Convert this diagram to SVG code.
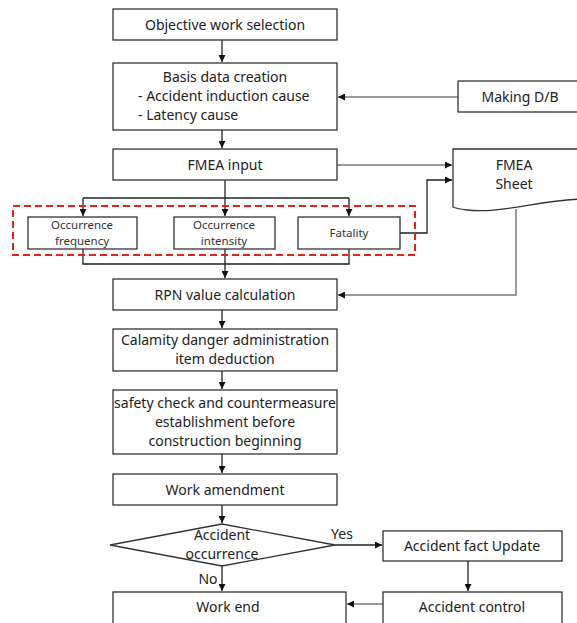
<svg xmlns="http://www.w3.org/2000/svg" width="577" height="623" viewBox="0 0 577 623">
<defs>
<marker id="ah" viewBox="0 0 10 10" refX="10" refY="5" markerWidth="7" markerHeight="7" markerUnits="userSpaceOnUse" orient="auto"><path d="M0,0 L10,5 L0,10 z" fill="#111"/></marker>
</defs>
<style>
.box{fill:#fff;stroke:#333;stroke-width:1.3}
.t{font-family:"Noto Sans","Open Sans",sans-serif;font-size:14px;fill:#222;text-anchor:middle}
.l{text-anchor:start}
.s{font-family:"Noto Sans","Open Sans",sans-serif;font-size:11.5px;fill:#333;text-anchor:middle}
.c{fill:none;stroke:#222;stroke-width:1.3}
.g{fill:none;stroke:#7a7a7a;stroke-width:1.5}
</style>
<rect width="577" height="623" fill="#fff"/>
<g id="connectors">
<path class="c" d="M222,40 V62" marker-end="url(#ah)"/>
<path class="c" d="M222,130 V148" marker-end="url(#ah)"/>
<path class="g" d="M458,97 H338" marker-end="url(#ah)"/>
<path class="g" d="M337,165 H452" marker-end="url(#ah)"/>
<path class="c" d="M400,233 H427 V180 H452" marker-end="url(#ah)"/>
<path class="g" d="M516,209 V295 H338" marker-end="url(#ah)"/>
<path class="c" d="M225,180 V198"/>
<path class="c" d="M83,198 H349"/>
<path class="c" d="M83,198 V216" marker-end="url(#ah)"/>
<path class="c" d="M225,198 V216" marker-end="url(#ah)"/>
<path class="c" d="M349,198 V216" marker-end="url(#ah)"/>
<path class="c" d="M83,249 V264 H349 V249"/>
<path class="c" d="M225,249 V278" marker-end="url(#ah)"/>
<path class="c" d="M222,310 V328" marker-end="url(#ah)"/>
<path class="c" d="M222,371 V389" marker-end="url(#ah)"/>
<path class="c" d="M222,454 V473" marker-end="url(#ah)"/>
<path class="c" d="M222,505 V523" marker-end="url(#ah)"/>
<path class="c" d="M335,545 H382" marker-end="url(#ah)"/>
<path class="c" d="M222,566 V591" marker-end="url(#ah)"/>
<path class="c" d="M468,561 V591" marker-end="url(#ah)"/>
<path class="g" d="M383,604 H347" marker-end="url(#ah)"/>
<text class="t" x="342" y="539">Yes</text>
<text class="t" x="208" y="584">No</text>
</g>
<g id="group-dashed"><rect x="13" y="206" width="402" height="49" fill="none" stroke="#e8201c" stroke-width="2" stroke-dasharray="7,4"/></g>
<g id="n1"><rect class="box" x="113" y="9" width="224" height="31"/><text class="t" x="225" y="30">Objective work selection</text></g>
<g id="n2"><rect class="box" x="113" y="63" width="224" height="67"/><text class="t" x="225" y="82">Basis data creation</text><text class="t l" x="138" y="101">- Accident induction cause</text><text class="t l" x="138" y="120">- Latency cause</text></g>
<g id="n3"><rect class="box" x="458" y="81" width="125" height="31"/><text class="t" x="520" y="102">Making D/B</text></g>
<g id="n4"><rect class="box" x="113" y="149" width="224" height="31"/><text class="t" x="225" y="170">FMEA input</text></g>
<g id="n5"><path class="box" d="M453,149 H583 V199 C540,200 500,214 467,210 C460,209 455,208 453,207 Z"/><text class="t" x="514" y="170">FMEA</text><text class="t" x="514" y="189">Sheet</text></g>
<g id="n6"><rect class="box" x="28" y="217" width="109" height="32"/><text class="s" x="82" y="229">Occurrence</text><text class="s" x="82" y="245">frequency</text></g>
<g id="n7"><rect class="box" x="174" y="217" width="101" height="32"/><text class="s" x="224" y="229">Occurrence</text><text class="s" x="224" y="245">intensity</text></g>
<g id="n8"><rect class="box" x="298" y="217" width="102" height="32"/><text class="s" x="349" y="237">Fatality</text></g>
<g id="n9"><rect class="box" x="113" y="279" width="224" height="31"/><text class="t" x="225" y="300">RPN value calculation</text></g>
<g id="n10"><rect class="box" x="113" y="329" width="224" height="42"/><text class="t" x="225" y="345">Calamity danger administration</text><text class="t" x="225" y="364">item deduction</text></g>
<g id="n11"><rect class="box" x="113" y="390" width="224" height="64"/><text class="t" x="225" y="408">safety check and  countermeasure</text><text class="t" x="225" y="427">establishment before</text><text class="t" x="225" y="446">construction beginning</text></g>
<g id="n12"><rect class="box" x="113" y="474" width="224" height="31"/><text class="t" x="225" y="495">Work amendment</text></g>
<g id="n13"><path class="box" d="M222,524 L335,545 L222,566 L110,545 Z"/><text class="t" x="222" y="540">Accident</text><text class="t" x="222" y="559">occurrence</text></g>
<g id="n14"><rect class="box" x="383" y="531" width="179" height="30"/><text class="t" x="472" y="551">Accident fact Update</text></g>
<g id="n15"><rect class="box" x="383" y="592" width="179" height="40"/><text class="t" x="472" y="612">Accident control</text></g>
<g id="n16"><rect class="box" x="113" y="592" width="233" height="40"/><text class="t" x="228" y="612">Work end</text></g>
</svg>
